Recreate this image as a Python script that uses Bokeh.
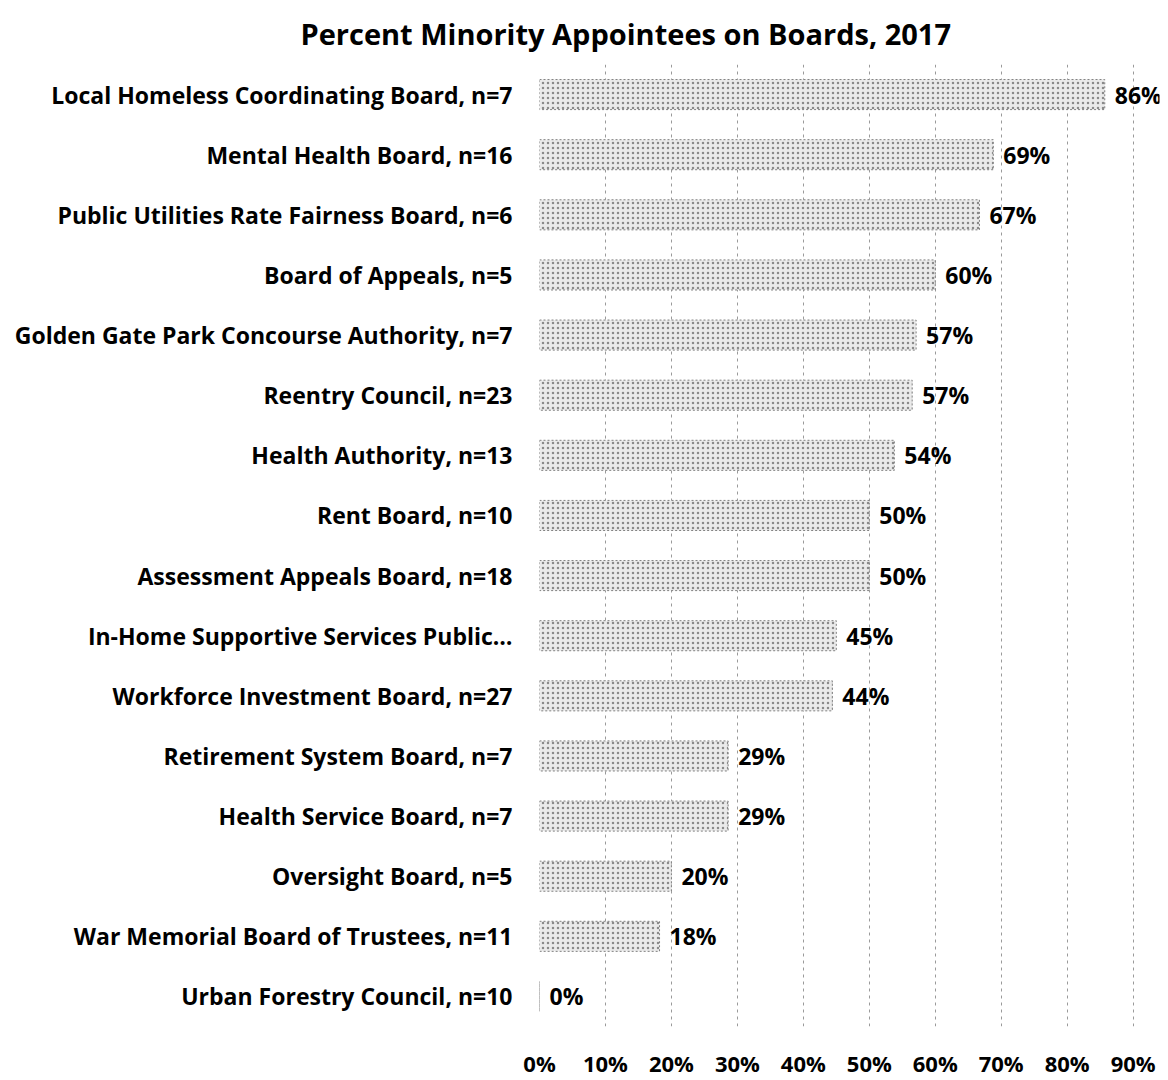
from bokeh.plotting import figure
from bokeh.models import FactorRange, Range1d, FixedTicker, PrintfTickFormatter, ColumnDataSource, Title
from bokeh.core.properties import value
from bokeh.embed import file_html
from bokeh.resources import INLINE

boards = [
    "Local Homeless Coordinating Board, n=7",
    "Mental Health Board, n=16",
    "Public Utilities Rate Fairness Board, n=6",
    "Board of Appeals, n=5",
    "Golden Gate Park Concourse Authority, n=7",
    "Reentry Council, n=23",
    "Health Authority, n=13",
    "Rent Board, n=10",
    "Assessment Appeals Board, n=18",
    "In-Home Supportive Services Public…",
    "Workforce Investment Board, n=27",
    "Retirement System Board, n=7",
    "Health Service Board, n=7",
    "Oversight Board, n=5",
    "War Memorial Board of Trustees, n=11",
    "Urban Forestry Council, n=10",
]
values = [85.7, 68.8, 66.7, 60.0, 57.1, 56.5, 53.8, 50.0, 50.0, 45.0, 44.4, 28.6, 28.6, 20.0, 18.2, 0.0]
labels = ["86%", "69%", "67%", "60%", "57%", "57%", "54%", "50%", "50%", "45%", "44%", "29%", "29%", "20%", "18%", "0%"]
ticks = [0, 10, 20, 30, 40, 50, 60, 70, 80, 90]

FONT = "Open Sans"

p = figure(width=1168, height=1080, output_backend="svg", toolbar_location=None,
           y_range=FactorRange(factors=list(reversed(boards)), range_padding=0),
           x_range=Range1d(0, 94),
           min_border_left=539, min_border_right=9, min_border_top=63, min_border_bottom=45)
p.outline_line_color = None
p.background_fill_color = "white"

p.title = Title(text="Percent Minority Appointees on Boards, 2017", align="left", offset=-239,
                text_font=FONT, text_font_style="bold", text_font_size="29px",
                text_color="black", standoff=23)

src = ColumnDataSource(dict(y=boards, v=values, lab=labels))
p.hbar(y="y", right="v", left=0, height=0.5, source=src,
       fill_color="#eaeaea", line_color="#808080", line_dash="2 2", line_width=1,
       hatch_pattern="dot", hatch_color="#8a8a8a", hatch_scale=5, hatch_weight=1)
p.text(x="v", y="y", text="lab", source=src, x_offset=10,
       text_align="left", text_baseline="middle", text_font=value(FONT),
       text_font_style="bold", text_font_size="23px", text_color="black")

p.xgrid.ticker = FixedTicker(ticks=ticks)
p.xgrid.grid_line_color = "#9a9a9a"
p.xgrid.grid_line_dash = "3 4"
p.ygrid.grid_line_color = None

p.xaxis.ticker = FixedTicker(ticks=ticks)
p.xaxis.formatter = PrintfTickFormatter(format="%d%%")
p.xaxis.axis_line_color = None
p.xaxis.major_tick_line_color = None
p.xaxis.minor_tick_line_color = None
p.xaxis.major_label_text_font = FONT
p.xaxis.major_label_text_font_style = "bold"
p.xaxis.major_label_text_font_size = "22px"
p.xaxis.major_label_text_color = "black"
p.xaxis.major_label_standoff = 15

p.yaxis.axis_line_color = None
p.yaxis.major_tick_line_color = None
p.yaxis.major_tick_out = 0
p.yaxis.major_label_text_font = FONT
p.yaxis.major_label_text_font_style = "bold"
p.yaxis.major_label_text_font_size = "23px"
p.yaxis.major_label_text_color = "black"
p.yaxis.major_label_standoff = 27

open("out.html", "w").write(file_html(p, INLINE))
